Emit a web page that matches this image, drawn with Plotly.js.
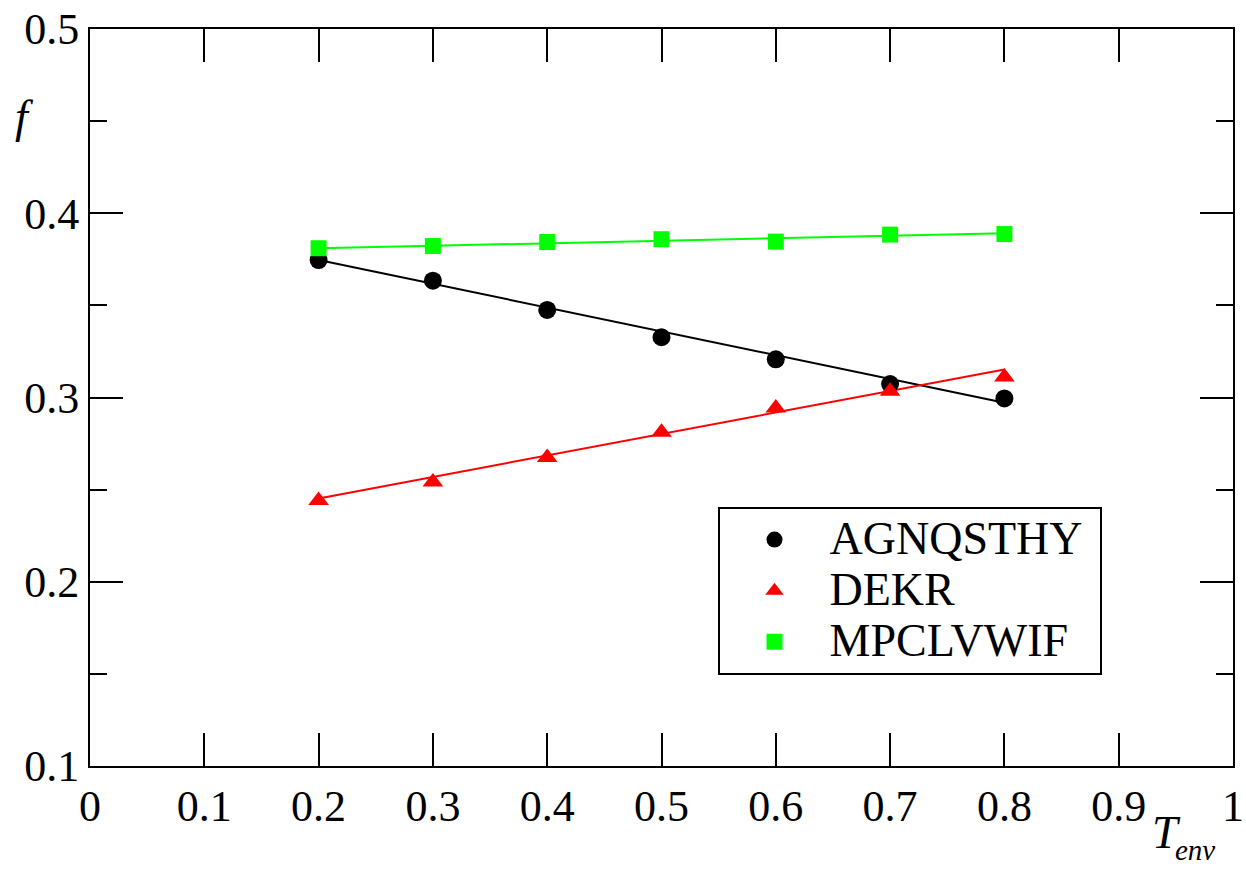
<!DOCTYPE html>
<html>
<head>
<meta charset="utf-8">
<script src="https://cdn.plot.ly/plotly-3.0.1.min.js"></script>
<style>html,body{margin:0;padding:0;background:#fff;}#chart{width:1246px;height:871px;}</style>
</head>
<body>
<div id="chart"></div>
<script>
// Data
const tEnv = [0.2, 0.3, 0.4, 0.5, 0.6, 0.7, 0.8];
const fAGNQSTHY = [0.3746, 0.3634, 0.3475, 0.3327, 0.3207, 0.3073, 0.2995];
const fDEKR = [0.2441, 0.2541, 0.2675, 0.2811, 0.2943, 0.3034, 0.3111];
const fMPCLVWIF = [0.3810, 0.3822, 0.3844, 0.3859, 0.3846, 0.3884, 0.3887];
// linear-fit line endpoints
const fitX = [0.2, 0.8];
const fitAGNQSTHY = [0.3746, 0.2972];
const fitDEKR = [0.2452, 0.3152];
const fitMPCLVWIF = [0.3810, 0.3891];
const seriesNames = ['AGNQSTHY', 'DEKR', 'MPCLVWIF'];
const xTickVals = [0, 0.1, 0.2, 0.3, 0.4, 0.5, 0.6, 0.7, 0.8, 0.9, 1];
const xTickText = ['0', '0.1', '0.2', '0.3', '0.4', '0.5', '0.6', '0.7', '0.8', '0.9', '1'];
const yTickVals = [0.1, 0.2, 0.3, 0.4, 0.5];
const yTickText = ['0.1', '0.2', '0.3', '0.4', '0.5'];

const FONT = 'Liberation Serif';

function legendName(s) {
  return '<span style="font-size:46px">' + s + '&nbsp;</span>';
}

const traces = [
  {x: fitX, y: fitAGNQSTHY, mode: 'lines', line: {color: '#000000', width: 2}, showlegend: false, hoverinfo: 'skip'},
  {x: fitX, y: fitDEKR, mode: 'lines', line: {color: '#ff0000', width: 2}, showlegend: false, hoverinfo: 'skip'},
  {x: fitX, y: fitMPCLVWIF, mode: 'lines', line: {color: '#00ff00', width: 2}, showlegend: false, hoverinfo: 'skip'},
  {x: tEnv, y: fAGNQSTHY, name: legendName(seriesNames[0]), mode: 'markers',
   marker: {symbol: 'circle', size: 18, color: '#000000'}},
  {x: tEnv, y: fDEKR, name: legendName(seriesNames[1]), mode: 'markers',
   marker: {symbol: 'triangle-up', size: 18, color: '#ff0000'}},
  {x: tEnv, y: fMPCLVWIF, name: legendName(seriesNames[2]), mode: 'markers',
   marker: {symbol: 'square', size: 16, color: '#00ff00'}}
];

const layout = {
  width: 1246, height: 871,
  margin: {l: 90, r: 13, t: 29, b: 105},
  paper_bgcolor: '#ffffff', plot_bgcolor: '#ffffff',
  font: {family: FONT, color: '#000000', size: 42},
  showlegend: true,
  legend: {
    x: 0.549, y: 0.3514, xanchor: 'left', yanchor: 'top',
    bgcolor: '#ffffff', bordercolor: '#000000', borderwidth: 2,
    font: {family: FONT, size: 37, color: '#000000'},
    itemwidth: 100, tracegroupgap: 0
  },
  xaxis: {
    range: [0, 1], showgrid: false, zeroline: false,
    showline: true, linecolor: '#000000', linewidth: 2, mirror: 'ticks',
    ticks: 'inside', ticklen: 33, tickwidth: 2, tickcolor: '#000000',
    tickmode: 'array', tickvals: xTickVals, ticktext: xTickText,
    tickfont: {family: FONT, size: 44, color: '#000000'}
  },
  yaxis: {
    range: [0.1, 0.5], showgrid: false, zeroline: false,
    showline: true, linecolor: '#000000', linewidth: 2, mirror: 'ticks',
    ticks: 'inside', ticklen: 33, tickwidth: 2, tickcolor: '#000000',
    tickmode: 'array', tickvals: yTickVals, ticktext: yTickText,
    tickfont: {family: FONT, size: 44, color: '#000000'},
    minor: {dtick: 0.05, tick0: 0.05, ticks: 'inside', ticklen: 17, tickwidth: 2, tickcolor: '#000000', showgrid: false}
  },
  annotations: [
    {text: '<i>f</i>', xref: 'paper', yref: 'paper', x: -0.057, y: 0.881,
     xanchor: 'center', yanchor: 'middle', showarrow: false,
     font: {family: FONT, size: 46, color: '#000000'}},
    {text: '<i>T</i>', xref: 'paper', yref: 'paper', x: 0.942, y: -0.09,
     xanchor: 'center', yanchor: 'middle', showarrow: false,
     font: {family: FONT, size: 46, color: '#000000'}},
    {text: '<i>env</i>', xref: 'paper', yref: 'paper', x: 0.967, y: -0.114,
     xanchor: 'center', yanchor: 'middle', showarrow: false,
     font: {family: FONT, size: 29, color: '#000000'}}
  ]
};

Plotly.newPlot('chart', traces, layout, {displayModeBar: false, staticPlot: true});
</script>
</body>
</html>
